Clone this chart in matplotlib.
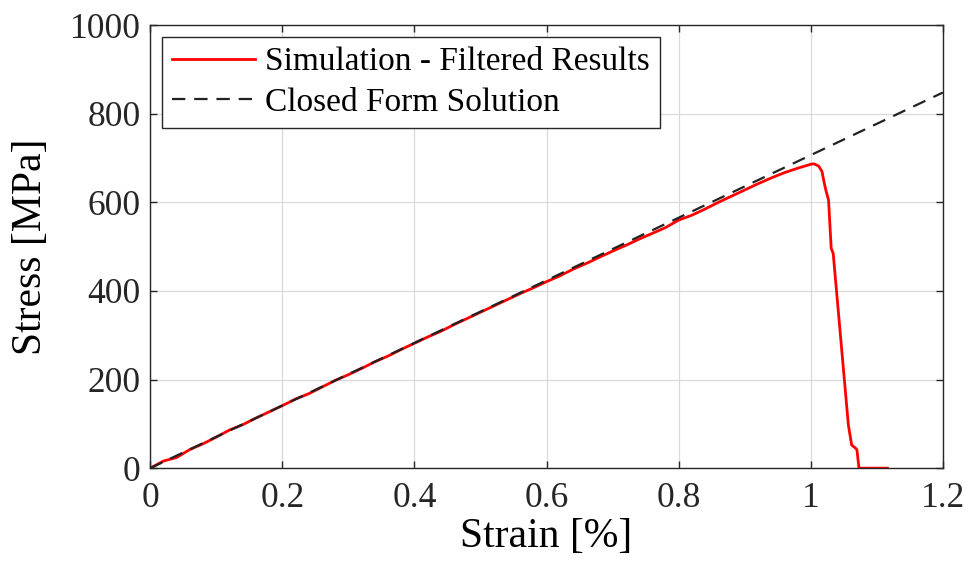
import numpy as np
import matplotlib.pyplot as plt

# simulation, filtered
sim_strain = [0.00, 0.02, 0.04, 0.06, 0.08, 0.10, 0.12, 0.14, 0.16, 0.18,
              0.20, 0.22, 0.24, 0.26, 0.28, 0.30, 0.32, 0.34, 0.36, 0.38,
              0.40, 0.42, 0.44, 0.46, 0.48, 0.50, 0.52, 0.54, 0.56, 0.58,
              0.60, 0.62, 0.64, 0.66, 0.68, 0.70, 0.72, 0.74, 0.76, 0.78,
              0.80, 0.82, 0.84, 0.86, 0.88, 0.90, 0.92, 0.94, 0.96, 0.98,
              1.00, 1.005, 1.012, 1.017, 1.021, 1.023, 1.027, 1.031, 1.034,
              1.057, 1.062, 1.068, 1.070, 1.073, 1.116]
sim_stress = [0, 16, 24, 42, 55, 70, 86, 98, 113, 127,
              141, 156, 168, 183, 198, 211, 225, 240, 253, 268,
              282, 296, 309, 324, 338, 352, 366, 380, 394, 407,
              421, 434, 449, 462, 476, 490, 503, 517, 530, 543,
              560, 571, 585, 600, 614, 628, 642, 655, 667, 677,
              686, 687, 682, 670, 640, 627, 605, 496, 485,
              97, 52, 45, 41, 0, 0]

# closed form solution
cf_strain = [0.0, 1.2]
cf_stress = [0.0, 848.0]

plt.rcParams['font.family'] = ['Liberation Serif', 'DejaVu Serif']

fig = plt.figure(figsize=(9.69, 5.73), dpi=100)
ax = fig.add_axes([0.155, 0.183, 0.818, 0.773])

ax.plot(sim_strain, sim_stress, '-', color='#ff0000', lw=2.0,
        label='Simulation - Filtered Results')
ax.plot(cf_strain, cf_stress, '--', color='#222222', lw=1.6,
        dashes=(6, 4), label='Closed Form Solution')

ax.set_xlim(0, 1.2)
ax.set_ylim(0, 1000)
ax.set_xticks(np.arange(0, 1.21, 0.2))
ax.set_xticklabels(['0', '0.2', '0.4', '0.6', '0.8', '1', '1.2'])
ax.set_yticks(np.arange(0, 1001, 200))
ax.grid(True, color='#d9d9d9', lw=0.9)
ax.set_axisbelow(True)
ax.tick_params(direction='in', top=True, right=True, labelsize=25.5,
               length=5, width=1, colors='#262626')
ax.tick_params(axis='x', pad=10)
ax.tick_params(axis='y', pad=7)
for s in ax.spines.values():
    s.set_color('#262626')
    s.set_linewidth(1.0)

ax.set_xlabel('Strain [%]', fontsize=30, labelpad=2)
ax.set_ylabel('Stress [MPa]', fontsize=30, labelpad=14)

leg = ax.legend(loc='upper left', fontsize=24, fancybox=False,
                framealpha=1, edgecolor='#262626', borderaxespad=0.35,
                handlelength=2.5, handletextpad=0.3, labelspacing=0.3,
                borderpad=0.3)
leg.get_frame().set_linewidth(1.0)

fig.savefig('out.png', dpi=100)
